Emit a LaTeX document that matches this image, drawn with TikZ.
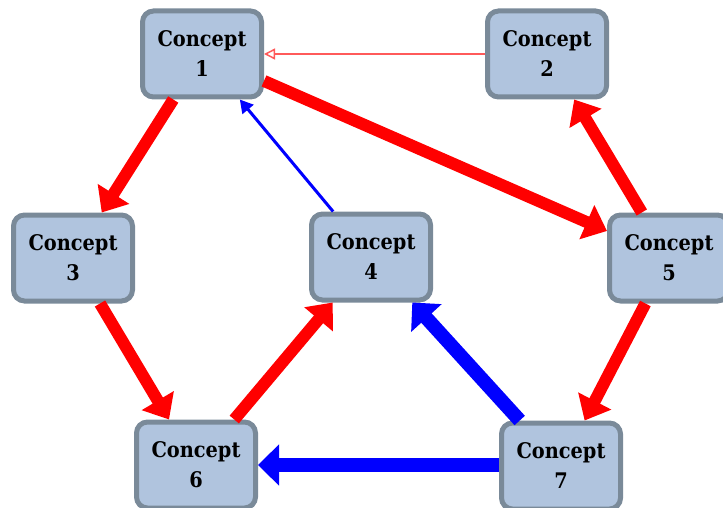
\documentclass[tikz,border=0pt]{standalone}
\usepackage{fontspec}
\newfontfamily\boxfont{DejaVu Serif Condensed}
\usetikzlibrary{arrows.meta}
\definecolor{boxfill}{RGB}{176,196,222}
\definecolor{boxline}{RGB}{122,138,153}
\definecolor{lightred}{RGB}{255,90,90}
\tikzset{
  concept/.style={draw=boxline, fill=boxfill, line width=5pt, rounded corners=11pt,
    minimum width=119pt, minimum height=86pt, align=center, inner sep=0pt,
    font=\boxfont\bfseries\fontsize{21.5}{30}\selectfont},
  bigred/.style={draw=red, line width=12pt, -{Triangle[length=22pt,width=36pt]}},
  bigblue/.style={draw=blue, line width=14pt, -{Triangle[length=21pt,width=40pt]}},
  thinblue/.style={draw=blue, line width=3pt, -{Triangle[length=13pt,width=14pt]}},
  thinred/.style={draw=lightred, line width=1.5pt, -{Triangle[open,length=11pt,width=11pt]}}
}
\begin{document}
\begin{tikzpicture}[x=1pt,y=-1pt]
\useasboundingbox (0,0) rectangle (723,508);
\clip (0,0) rectangle (723,508);
\node[concept] (c1) at (202,54) {Concept\\1};
\node[concept] (c2) at (547,54) {Concept\\2};
\node[concept] (c3) at (73,258) {Concept\\3};
\node[concept] (c4) at (371,257) {Concept\\4};
\node[concept] (c5) at (669,258) {Concept\\5};
\node[concept] (c6) at (196,465) {Concept\\6};
\node[concept] (c7) at (561,466) {Concept\\7};
\draw[thinred] (c2) -- (c1);
\draw[bigred] (c1) -- (c3);
\draw[bigred] (c1) -- (c5);
\draw[thinblue] (c4) -- (c1);
\draw[bigred] (c3) -- (c6);
\draw[bigred] (c6) -- (c4);
\draw[bigred] (c5) -- (c2);
\draw[bigred] (c5) -- (c7);
\draw[bigblue] (c7) -- (c4);
\draw[bigblue] (c7.west |- c6) -- (c6);
\end{tikzpicture}
\end{document}
